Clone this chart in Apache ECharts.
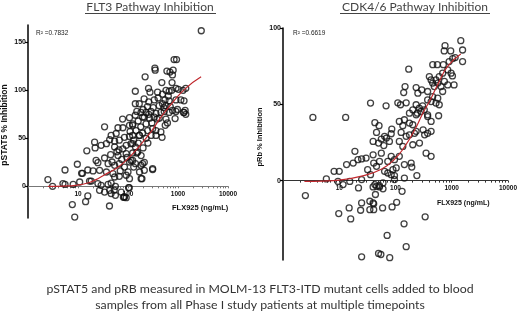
<!DOCTYPE html>
<html>
<head>
<meta charset="utf-8">
<script src="https://cdn.jsdelivr.net/npm/echarts@6/dist/echarts.min.js"></script>
<style>
  html, body { margin: 0; padding: 0; background: #fff; }
  #chart { width: 520px; height: 313px; }
</style>
</head>
<body>
<div id="chart"></div>
<script>
// FLT3 panel: [FLX925 ng/mL, pSTAT5 % inhibition]
const flt3Points = [
  [2.5,7],[3.1,0],[5.5,17],[5.5,2],[5,2.8],[8,2],[9.7,23],[10.8,4.5],[11.8,13.5],[12.3,13.5],[15,37],[15.7,17],
  [17,5.5],[18.4,5.5],[20,16],[22,40],[21.5,46],[23,27],[25,24.6],[25,2.8],[27,16.7],[29,42.7],[29,1],[34,29.5],
  [34,62],[37,44.4],[37,14.9],[40,23.6],[40,2],[43,48.6],[45,33],[46,53],[46,3.4],[48,25.3],[50,13.2],[54,47],
  [54,41],[54,21.9],[54,9.7],[56,0],[58,55],[60,36],[63,61],[63,32],[66,38],[67,48],[67,23.6],[67,10.4],[70,16],
  [75,28],[78,70],[79,61],[79,39],[85,51],[85,20],[92,42.7],[92,34],[92,11.5],[95,30],[100,15],[107,71.5],[107,63.5],
  [107,52],[107,25.3],[107,8],[110,57],[115,44.4],[115,27],[124,65],[124,63.5],[124,53],[124,44.5],[124,34.7],
  [124,27],[130,48],[130,20],[140,99],[140,86],[140,74],[141,41],[141,23.6],[145,58],[150,34.7],[150,78],[156,35.7],
  [160,68],[160,45],[168,86],[168,53],[170,53],[170,14.9],[180,62],[182,77],[182,21.9],[183,32],[183,8],[190,8],
  [196,72],[196,55.5],[196,23.6],[200,80],[200,40],[210,91],[212,72],[212,25],[212,16.7],[220,114],[230,77],[230,65],
  [230,50],[245,83],[247,58],[250,45],[257,102],[260,88],[260,75],[270,71],[275,98],[288,78],[290,53],[300,66],
  [311,60],[311,18.4],[311,17.4],[320,82],[335,90],[335,72],[345,123],[350,121],[362,76],[362,58],[362,53],[380,70],
  [390,98],[400,92],[420,84],[420,71],[455,77],[455,56.6],[475,108],[480,51],[490,96],[490,86],[520,82],[530,78],
  [550,90],[555,63.5],[575,100],[575,84],[575,70],[600,120],[615,66],[640,94],[665,99],[665,89],[665,77],[690,119],
  [700,83],[750,100],[760,108],[775,116],[775,79],[800,121],[835,132],[875,70.5],[910,102],[910,90],[910,78],
  [935,132],[975,80],[1020,101],[1140,90],[1260,100],[1290,77],[1320,89],[1320,77],[1390,79],[1430,102],[1430,75],
  [2920,162],
  [7.7,-19],[8.6,-32],[14.2,-16],[15.7,-10],[27,-4.2],[34,-6],[42.6,-20.5],[43,-4.2],[46,-7.6],[53,-4],[56,-9.4],
  [73,-6],[81,-11.5],[84,-11],[85,-11],[92,-11.8],[103,-1.4],[106,-1.5]
];
const flt3Fit = [[2.5,0],[5,0.3],[9,1],[17,4],[27,9],[40,14],[60,19],[92,27],[170,42],[300,58],[455,72],[800,88],[1420,102],[2900,114]];

// CDK4/6 panel: [FLX925 ng/mL, pRb % inhibition]
const cdkPoints = [
  [1450,91.7],[760,88.4],[735,85],[960,85],[1560,85.6],[1040,80],[1150,80.6],[900,78],[1560,78],[460,76],[555,76],
  [710,76],[172,73],[850,72.5],[975,70.4],[690,70.4],[600,68.2],[1030,68.6],[740,65],[1100,62.7],[400,68.2],[430,66],
  [525,66],[565,63.9],[148,61.6],[233,61],[293,59.5],[140,57.7],[250,57.3],[373,58.4],[458,63.9],[490,61.6],[645,61.6],
  [850,62.7],[458,55],[565,54],[690,58.4],[600,49.7],[525,50.8],[373,52.9],[430,51.8],[36,50.8],[68,49],[110,51],
  [123,49.7],[155,51],[233,49.7],[265,47.5],[304,49],[283,45.3],[325,46.4],[203,46.4],[177,44.2],[233,43.1],[373,43.1],
  [585,42.5],[3.4,41.4],[13,41.4],[43,38],[51,36],[86,33.8],[84,30.7],[117,38.8],[135,36],[126,31.6],[177,37.7],
  [203,36.6],[144,39.9],[46,31.6],[40,25.7],[56,27.2],[64,29],[69,27.9],[50,24.6],[78,25.7],[62,23],[117,25.7],
  [155,29],[177,30],[218,31],[233,32.3],[310,33.3],[330,30],[373,31],[430,32.3],[267,24.6],[203,23.5],[135,22.4],
  [430,38.8],[373,42],[245,44.2],[19,19.2],[25,14.2],[13.5,10.5],[30,14.8],[40,16.9],[41,11.5],[56,18],[73,12.6],
  [84,15.9],[96,13.7],[117,15.9],[144,10.5],[190,11.5],[195,8.9],[8.1,6.1],[10,6.1],[17.7,11.5],[21.5,13.7],[32,7.2],
  [46,9.4],[52,12.6],[64,6.1],[73,5],[90,7.2],[103,8.3],[84,3.9],[96,3.3],[144,1.7],[240,3.3],[350,18],[430,15.9],
  [5.9,1.1],[9.5,-0.5],[11.7,-2.6],[15.4,-0.5],[25,0.7],[36,3.9],[43,-2.6],[52,-3.3],[60,-1.5],[96,0.7],[60,-5.4],
  [2.5,-9.8],[22,-4.8],[40,-4.1],[46,-3.7],[52,-4.1],[44,-9.1],[35,-13.5],[40,-14.6],[41,-15.2],[25,-14.6],[24,-19.4],
  [35,-19],[41,-19],[59,-17.9],[87,-17.2],[105,-14.2],[131,-7],[15,-17.9],[9.8,-21.6],[16,-25.1],[337,-23.7],
  [142,-28.3],[71,-35.9],[155,-43.3],[50,-47.7],[55,-48.4],[25,-49.9],[79,-50.5]
];
const cdkFit = [[2.4,-0.5],[5,-0.3],[10,0.3],[25,3],[56,7.5],[96,14],[144,22],[218,33],[305,44],[430,54],[565,63],[850,75],[1450,83]];

const xLabelTicks = [10, 100, 1000, 10000];
const xMinorTicks = [];
[1, 10, 100, 1000].forEach(d => { for (let k = 1; k <= 9; k++) xMinorTicks.push(k * d); });
xMinorTicks.push(10000);
const flt3YTicks = [0, 50, 100, 150];
const cdkYTicks = [0, 50, 100];

const grids = [
  { left: 28, top: 25, width: 200, height: 193, yMin: -33, yMax: 168 },
  { left: 283, top: 28, width: 226, height: 232, yMin: -52, yMax: 100 }
];

const chart = echarts.init(document.getElementById('chart'));

// x axis drawn along y = 0 (labels follow it)
function xAxisCfg(i, lineColor) {
  const g = grids[i];
  const zeroOffset = -(0 - g.yMin) / (g.yMax - g.yMin) * g.height;
  return {
    type: 'log', logBase: 10, min: 1, max: 10000, gridIndex: i, offset: zeroOffset,
    axisLine: { onZero: false, lineStyle: { color: lineColor, width: 1 } },
    axisTick: { customValues: xMinorTicks, length: 2, lineStyle: { color: lineColor } },
    axisLabel: { customValues: xLabelTicks, formatter: v => String(v), fontSize: 6.5, fontWeight: 'bold', color: '#111', margin: 4, fontFamily: 'Liberation Sans' },
    splitLine: { show: false }, minorTick: { show: false }
  };
}
function yAxisCfg(i, ticks) {
  const g = grids[i];
  return {
    type: 'value', gridIndex: i, min: g.yMin, max: g.yMax,
    axisLine: { show: true, onZero: false, lineStyle: { color: '#000', width: 1.5 } },
    axisTick: { show: true, customValues: ticks, length: 3, lineStyle: { color: '#000', width: 1.2 } },
    axisLabel: { customValues: ticks, fontSize: 7, fontWeight: 'bold', color: '#111', margin: 2, fontFamily: 'Liberation Sans' },
    splitLine: { show: false }
  };
}
const scatterStyle = { color: 'rgba(255,255,255,0)', borderColor: '#111', borderWidth: 1.3 };
const fitStyle = { color: '#c0282d', width: 1.2 };

chart.setOption({
  animation: false,
  backgroundColor: '#fff',
  grid: grids.map(g => ({ left: g.left, top: g.top, width: g.width, height: g.height })),
  xAxis: [xAxisCfg(0, '#777'), xAxisCfg(1, '#333')],
  yAxis: [yAxisCfg(0, flt3YTicks), yAxisCfg(1, cdkYTicks)],
  series: [
    { type: 'scatter', xAxisIndex: 0, yAxisIndex: 0, data: flt3Points, symbol: 'circle', symbolSize: 6, itemStyle: scatterStyle },
    { type: 'line', xAxisIndex: 0, yAxisIndex: 0, data: flt3Fit, smooth: true, showSymbol: false, lineStyle: fitStyle, z: 3 },
    { type: 'scatter', xAxisIndex: 1, yAxisIndex: 1, data: cdkPoints, symbol: 'circle', symbolSize: 6, itemStyle: scatterStyle },
    { type: 'line', xAxisIndex: 1, yAxisIndex: 1, data: cdkFit, smooth: true, showSymbol: false, lineStyle: fitStyle, z: 3 }
  ],
  graphic: [
    { type: 'text', x: 150, y: 7, style: { text: 'FLT3 Pathway Inhibition', font: '12px Lato', fill: '#444', align: 'center', verticalAlign: 'middle' } },
    { type: 'line', shape: { x1: 85, y1: 13.5, x2: 216, y2: 13.5 }, style: { stroke: '#444', lineWidth: 1 } },
    { type: 'text', x: 415, y: 7, style: { text: 'CDK4/6 Pathway Inhibition', font: '12px Lato', fill: '#444', align: 'center', verticalAlign: 'middle' } },
    { type: 'line', shape: { x1: 340, y1: 13.5, x2: 490, y2: 13.5 }, style: { stroke: '#444', lineWidth: 1 } },
    { type: 'text', x: 4.5, y: 125, rotation: Math.PI / 2, style: { text: 'pSTAT5 % Inhibition', font: 'bold 8.5px "Liberation Sans"', fill: '#111', align: 'center', verticalAlign: 'middle' } },
    { type: 'text', x: 260, y: 137, rotation: Math.PI / 2, style: { text: 'pRb % Inhibition', font: 'bold 7.5px "Liberation Sans"', fill: '#111', align: 'center', verticalAlign: 'middle' } },
    { type: 'text', x: 36, y: 33, style: { text: 'R\u00b2 =0.7832', font: '6.5px "Liberation Sans"', fill: '#222', verticalAlign: 'middle' } },
    { type: 'text', x: 293, y: 33, style: { text: 'R\u00b2 =0.6619', font: '6.5px "Liberation Sans"', fill: '#222', verticalAlign: 'middle' } },
    { type: 'text', x: 172, y: 208, style: { text: 'FLX925 (ng/mL)', font: 'bold 7.5px "Liberation Sans"', fill: '#111', verticalAlign: 'middle' } },
    { type: 'text', x: 437, y: 203, style: { text: 'FLX925 (ng/mL)', font: 'bold 7px "Liberation Sans"', fill: '#111', verticalAlign: 'middle' } },
    { type: 'text', x: 260, y: 289, style: { text: 'pSTAT5 and pRB measured in MOLM-13 FLT3-ITD mutant cells added to blood', font: '12.3px Lato', fill: '#333', align: 'center', verticalAlign: 'middle' } },
    { type: 'text', x: 260, y: 305, style: { text: 'samples from all Phase I study patients at multiple timepoints', font: '12.3px Lato', fill: '#333', align: 'center', verticalAlign: 'middle' } }
  ]
});
</script>
</body>
</html>
